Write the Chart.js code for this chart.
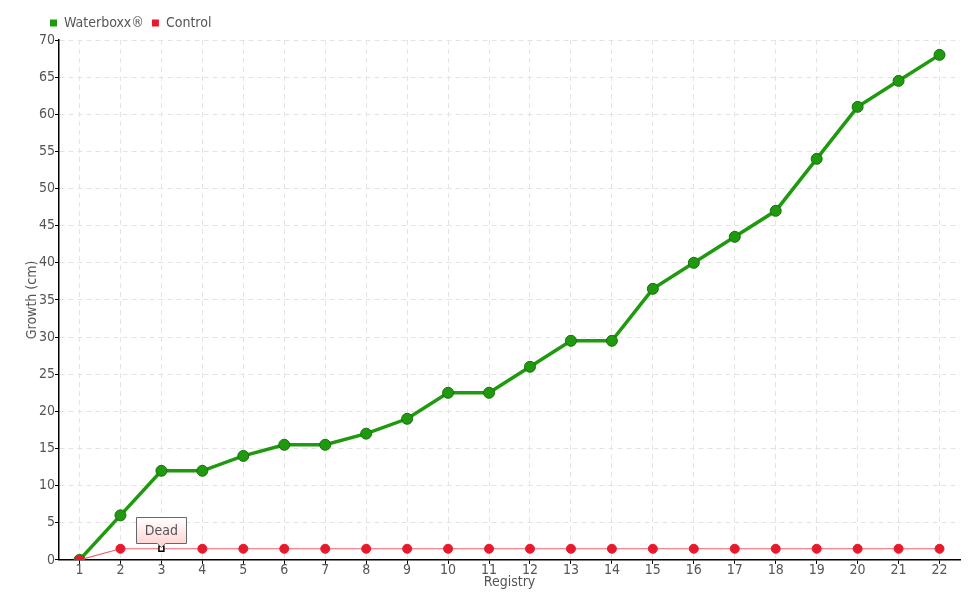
<!DOCTYPE html>
<html>
<head>
<meta charset="utf-8">
<script src="https://cdn.jsdelivr.net/npm/chart.js@4.4.0/dist/chart.umd.min.js"></script>
<style>
html,body{margin:0;padding:0;background:#fff;}
#wrap{width:980px;height:600px;}
</style>
</head>
<body>
<div id="wrap"><canvas id="c" width="980" height="600"></canvas></div>
<script>
const categories = ["1","2","3","4","5","6","7","8","9","10","11","12","13","14","15","16","17","18","19","20","21","22"];
const waterboxx = [0,6,12,12,14,15.5,15.5,17,19,22.5,22.5,26,29.5,29.5,36.5,40,43.5,47,54,61,64.5,68];
const control = [0,1.5,1.5,1.5,1.5,1.5,1.5,1.5,1.5,1.5,1.5,1.5,1.5,1.5,1.5,1.5,1.5,1.5,1.5,1.5,1.5,1.5];
const annotationIndex = 2;
const annotationText = "Dead";

const FONT = '"DejaVu Sans Condensed", "Liberation Sans Narrow", sans-serif';
const TXT = '#555';

const annot = {
  id: 'annot',
  afterLayout(chart) {
    chart.legend.left += 17;
  },
  afterDatasetsDraw(chart) {
    const ctx = chart.ctx;
    const xs = chart.scales.x, ys = chart.scales.y;
    const px = xs.getPixelForValue(annotationIndex);
    const py = ys.getPixelForValue(control[annotationIndex]);
    const w = 50, h = 26;
    const left = Math.round(px - w/2) + 0.5, bottom = Math.round(py - 6) + 0.5, top = bottom - h;
    ctx.save();
    const g = ctx.createLinearGradient(0, top, 0, bottom);
    g.addColorStop(0, '#ffffff');
    g.addColorStop(1, '#ffd6d6');
    ctx.beginPath();
    ctx.moveTo(left, top);
    ctx.lineTo(left + w, top);
    ctx.lineTo(left + w, bottom);
    ctx.lineTo(px + 4, bottom);
    ctx.lineTo(px, bottom + 4);
    ctx.lineTo(px - 4, bottom);
    ctx.lineTo(left, bottom);
    ctx.closePath();
    ctx.fillStyle = g;
    ctx.fill();
    ctx.strokeStyle = '#666';
    ctx.lineWidth = 1;
    ctx.stroke();
    ctx.fillStyle = TXT;
    ctx.font = '14px ' + FONT;
    ctx.textAlign = 'center';
    ctx.textBaseline = 'middle';
    ctx.fillText(annotationText, px, top + h/2 + 1);
    ctx.restore();
  }
};

const ctrlStyle = control.map((v,i) => i === annotationIndex ? 'rect' : 'circle');
const ctrlBg = control.map((v,i) => i === annotationIndex ? '#ffffff' : '#e8192c');
const ctrlBorder = control.map((v,i) => i === annotationIndex ? '#000000' : '#e8192c');
const ctrlRadius = control.map((v,i) => i === annotationIndex ? 3.5 : 4.5);
const ctrlBW = control.map((v,i) => i === annotationIndex ? 1.5 : 1);

new Chart(document.getElementById('c'), {
  type: 'line',
  data: {
    labels: categories,
    datasets: [
      {
        label: 'Waterboxx®',
        data: waterboxx,
        borderColor: '#1f9a0e',
        backgroundColor: '#1f9a0e',
        borderWidth: 3.5,
        pointRadius: 5.5,
        pointBackgroundColor: '#1f9a0e',
        pointBorderColor: '#17700d',
        pointBorderWidth: 1,
        tension: 0,
        order: 2
      },
      {
        label: 'Control',
        data: control,
        borderColor: '#f0606c',
        backgroundColor: '#e8192c',
        borderWidth: 1.2,
        pointStyle: ctrlStyle,
        pointRadius: ctrlRadius,
        pointBackgroundColor: ctrlBg,
        pointBorderColor: ctrlBorder,
        pointBorderWidth: ctrlBW,
        tension: 0,
        order: 1
      }
    ]
  },
  options: {
    responsive: false,
    animation: false,
    events: [],
    layout: { padding: { left: 25, right: 20, top: 8, bottom: 9 } },
    plugins: {
      tooltip: { enabled: false },
      legend: {
        position: 'top',
        align: 'start',
        labels: {
          boxWidth: 7,
          boxHeight: 7,
          padding: 8,
          color: TXT,
          font: { family: FONT, size: 14 },
          generateLabels(chart) {
            return chart.data.datasets.map((d, i) => ({
              text: d.label,
              fillStyle: i === 0 ? '#1f9a0e' : '#e8192c',
              strokeStyle: i === 0 ? '#1f9a0e' : '#e8192c',
              lineWidth: 0,
              datasetIndex: i,
              fontColor: TXT
            }));
          }
        }
      }
    },
    scales: {
      x: {
        offset: true,
        grid: { offset: false, color: '#e4e4e4', tickColor: '#000', tickLength: 4, drawTicks: true },
        border: { color: '#000', width: 1.5, dash: [5, 4] },
        ticks: { color: TXT, font: { family: FONT, size: 14 }, padding: -2, maxRotation: 0, autoSkip: false },
        title: { display: true, text: 'Registry', color: TXT, font: { family: FONT, size: 14 }, padding: { top: -2.5, bottom: 0 } }
      },
      y: {
        min: 0, max: 70,
        ticks: { stepSize: 5, color: TXT, font: { family: FONT, size: 14 }, padding: 0 },
        grid: { color: '#e4e4e4', tickColor: '#000', tickLength: 4 },
        border: { color: '#000', width: 1.5, dash: [5, 4] },
        title: { display: true, text: 'Growth (cm)', color: TXT, font: { family: FONT, size: 14, lineHeight: 1 }, padding: { top: 0, bottom: 0 } }
      }
    }
  },
  plugins: [annot]
});
</script>
</body>
</html>
